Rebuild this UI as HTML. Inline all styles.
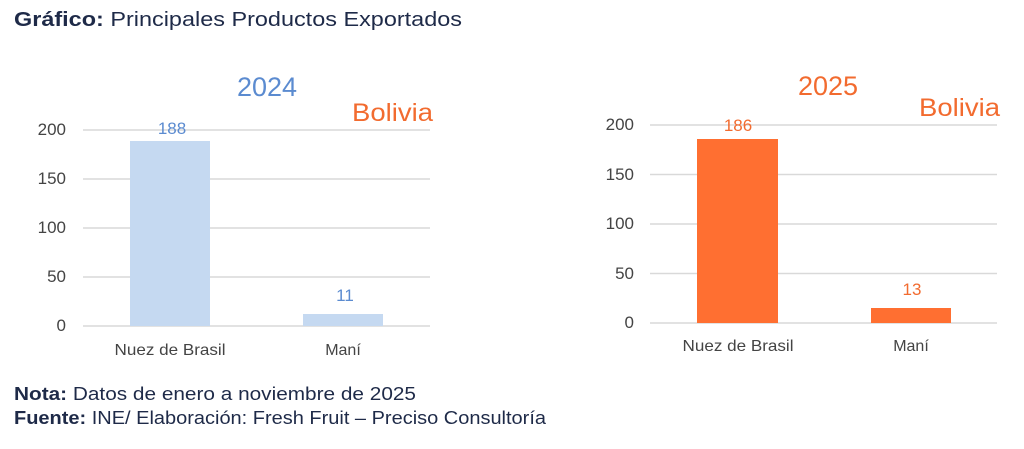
<!DOCTYPE html>
<html><head><meta charset="utf-8"><style>
body{margin:0;width:1024px;height:444px;background:#fff;overflow:hidden;font-family:"Liberation Sans",sans-serif}
</style></head><body>
<svg width="1024" height="444" xmlns="http://www.w3.org/2000/svg" font-family="Liberation Sans, sans-serif">
<text x="14" y="26" font-size="20" fill="#1e2a48" textLength="448" lengthAdjust="spacingAndGlyphs"><tspan font-weight="bold">Gráfico:</tspan> Principales Productos Exportados</text>
<g stroke="#d9d9d9" stroke-width="1.5">
<line x1="83" x2="430" y1="130" y2="130"/><line x1="83" x2="430" y1="179" y2="179"/>
<line x1="83" x2="430" y1="228" y2="228"/><line x1="83" x2="430" y1="277" y2="277"/>
<line x1="83" x2="430" y1="326" y2="326"/>
<line x1="650" x2="997" y1="125" y2="125"/><line x1="650" x2="997" y1="174.5" y2="174.5"/>
<line x1="650" x2="997" y1="224" y2="224"/><line x1="650" x2="997" y1="273.5" y2="273.5"/>
<line x1="650" x2="997" y1="323" y2="323"/>
</g>
<g font-size="17" fill="#444" text-anchor="end">
<text x="66" y="135">200</text><text x="66" y="184">150</text><text x="66" y="233">100</text><text x="66" y="282">50</text><text x="66" y="331">0</text>
<text x="634" y="130">200</text><text x="634" y="180">150</text><text x="634" y="229">100</text><text x="634" y="279">50</text><text x="634" y="328">0</text>
</g>
<rect x="130" y="141" width="80" height="185" fill="#c5d9f1"/>
<rect x="303" y="314" width="80" height="12" fill="#c5d9f1"/>
<rect x="697" y="139" width="81" height="184" fill="#ff6f31"/>
<rect x="871" y="308" width="80" height="15" fill="#ff6f31"/>
<g font-size="17" text-anchor="middle">
<text x="172" y="134" fill="#5b8bd0">188</text><text x="345" y="301" fill="#5b8bd0">11</text>
<text x="738" y="131" fill="#f26b2f">186</text><text x="912" y="295" fill="#f26b2f">13</text>
<text x="170" y="355" fill="#444" font-size="16" textLength="111" lengthAdjust="spacingAndGlyphs">Nuez de Brasil</text><text x="343" y="355" fill="#444" font-size="16">Maní</text>
<text x="738" y="351" fill="#444" font-size="16" textLength="111" lengthAdjust="spacingAndGlyphs">Nuez de Brasil</text><text x="911" y="351" fill="#444" font-size="16">Maní</text>
<text x="267" y="96" font-size="27" fill="#5b8bd0">2024</text>
<text x="828" y="95" font-size="27" fill="#f26b2f">2025</text>
</g>
<text x="433" y="121" font-size="25" fill="#f26b2f" text-anchor="end" textLength="81" lengthAdjust="spacingAndGlyphs">Bolivia</text>
<text x="1000" y="116" font-size="25" fill="#f26b2f" text-anchor="end" textLength="81" lengthAdjust="spacingAndGlyphs">Bolivia</text>
<text x="14" y="400" font-size="18" fill="#1e2a48" textLength="402" lengthAdjust="spacingAndGlyphs"><tspan font-weight="bold">Nota:</tspan> Datos de enero a noviembre de 2025</text>
<text x="14" y="424" font-size="18" fill="#1e2a48" textLength="532" lengthAdjust="spacingAndGlyphs"><tspan font-weight="bold">Fuente:</tspan> INE/ Elaboración: Fresh Fruit – Preciso Consultoría</text>
</svg>
</body></html>
